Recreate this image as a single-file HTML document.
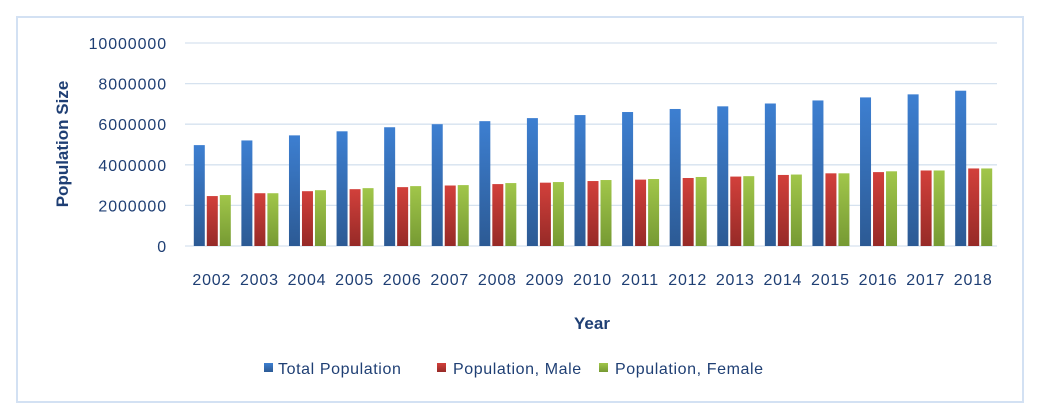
<!DOCTYPE html>
<html><head><meta charset="utf-8"><style>
body{margin:0;background:#fff;width:1040px;height:413px;overflow:hidden;font-family:"Liberation Sans",sans-serif;}
</style></head><body>
<svg width="1040" height="413">
<defs>
<linearGradient id="gb" x1="0" y1="0" x2="0" y2="1"><stop offset="0" stop-color="#3d7fd1"/><stop offset="1" stop-color="#2c5a94"/></linearGradient>
<linearGradient id="gr" x1="0" y1="0" x2="0" y2="1"><stop offset="0" stop-color="#d2403b"/><stop offset="1" stop-color="#962a27"/></linearGradient>
<linearGradient id="gg" x1="0" y1="0" x2="0" y2="1"><stop offset="0" stop-color="#a1c64a"/><stop offset="1" stop-color="#769a33"/></linearGradient>
</defs>
<rect x="17" y="17" width="1006" height="385" fill="#fff" stroke="#d3e1f3" stroke-width="2"/>
<g id="grid"></g>
<g id="bars"></g>
<g id="xl"></g>
<text x="68" y="144" transform="rotate(-90 68 144)" text-anchor="middle" font-size="17" font-weight="bold" fill="#1f3f74">Population Size</text>
<text x="592" y="329" text-anchor="middle" font-size="17" font-weight="bold" fill="#1f3f74">Year</text>
<g font-size="16" letter-spacing="0.6" fill="#1f3f74">
<rect x="264" y="363" width="9" height="9" fill="url(#gb)"/>
<text x="278" y="374">Total Population</text>
<rect x="437" y="363" width="9" height="9" fill="url(#gr)"/>
<text x="453" y="374">Population, Male</text>
<rect x="599" y="363" width="9" height="9" fill="url(#gg)"/>
<text x="615" y="374">Population, Female</text>
</g>
</svg>
<script>
const years=[2002,2003,2004,2005,2006,2007,2008,2009,2010,2011,2012,2013,2014,2015,2016,2017,2018];
const total=[4970000,5200000,5450000,5650000,5850000,6000000,6150000,6300000,6450000,6600000,6750000,6880000,7020000,7170000,7320000,7470000,7650000];
const male=[2460000,2600000,2700000,2800000,2900000,2980000,3050000,3120000,3200000,3270000,3350000,3420000,3500000,3580000,3640000,3720000,3820000];
const female=[2510000,2600000,2750000,2850000,2950000,3000000,3100000,3150000,3250000,3300000,3400000,3440000,3520000,3580000,3680000,3720000,3820000];
const ticks=[0,2000000,4000000,6000000,8000000,10000000];
const NS='http://www.w3.org/2000/svg';
const x0=188,x1=997,y0=246,y1=43,yMax=10000000;
const bw=(x1-x0)/years.length;
const y=v=>y0-(v/yMax)*(y0-y1);
const grid=document.getElementById('grid'),bars=document.getElementById('bars'),xl=document.getElementById('xl');
function mk(tag,at,p){const e=document.createElementNS(NS,tag);for(const k in at)e.setAttribute(k,at[k]);p.appendChild(e);return e;}
ticks.forEach(t=>{
  const l=mk('line',{x1:185,x2:x1,y1:y(t),y2:y(t),stroke:'#d6e2ef','stroke-width':1.3},grid);
  
  
  const tx=mk('text',{x:167,y:y(t)+6,'text-anchor':'end','font-size':16,'letter-spacing':0.9,fill:'#1f3f74'},grid);
  tx.textContent=t;
  
  
});
const series=[[total,'url(#gb)','total'],[male,'url(#gr)','male'],[female,'url(#gg)','female']];
years.forEach((yr,i)=>{
  const c=x0+bw*(i+0.5);
  series.forEach((s,j)=>{
    const v=s[0][i];
    const r=mk('rect',{x:c-18+j*13,y:y(v),width:11,height:y0-y(v),fill:s[1]},bars);
    
    
  });
  const t=mk('text',{x:c,y:285,'text-anchor':'middle','font-size':16,'letter-spacing':0.8,fill:'#1f3f74'},xl);
  t.textContent=yr;
  
  
});
</script>
</body></html>
